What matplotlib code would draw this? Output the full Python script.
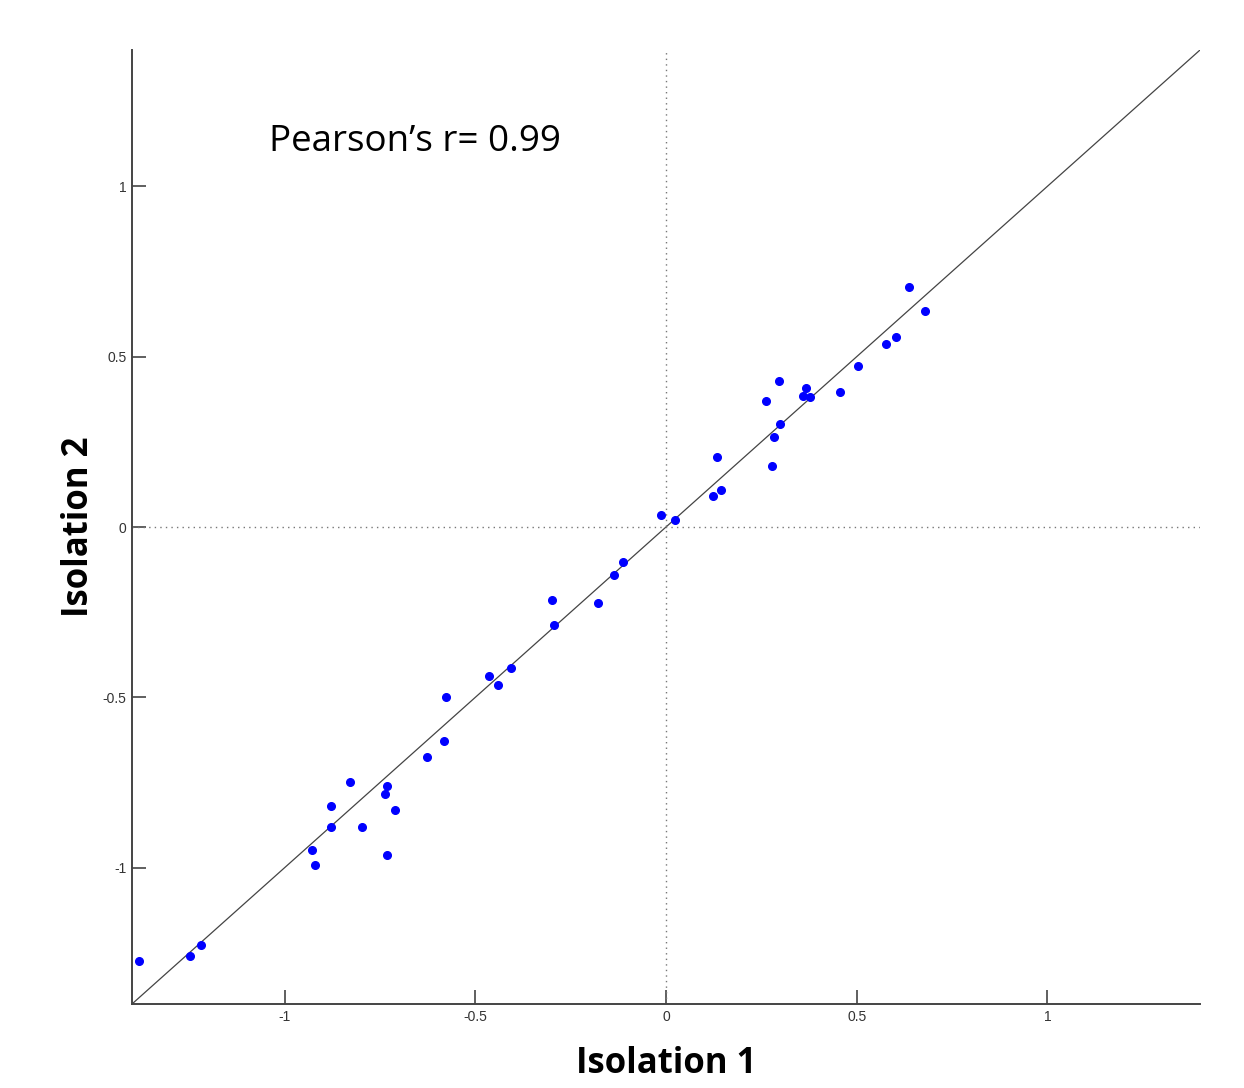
import matplotlib.pyplot as plt

# replicate values from the two isolations
iso1 = [0.638, 0.678, 0.603, 0.578, 0.504, 0.456, 0.378, 0.366, 0.359, 0.296,
        0.262, 0.298, 0.282, 0.278, 0.134, 0.145, 0.122,
        -0.014, 0.023, -0.113, -0.136, -0.299, -0.178, -0.293, -0.407, -0.465,
        -0.441, -0.578, -0.582, -0.627, -0.829, -0.732, -0.736, -0.877, -0.711,
        -0.879, -0.798, -0.927, -0.732, -0.921, -1.381, -1.249, -1.218]
iso2 = [0.705, 0.634, 0.557, 0.536, 0.473, 0.395, 0.382, 0.409, 0.385, 0.429,
        0.371, 0.302, 0.264, 0.180, 0.207, 0.110, 0.092,
        0.035, 0.021, -0.103, -0.140, -0.214, -0.224, -0.288, -0.413, -0.436,
        -0.463, -0.500, -0.627, -0.676, -0.749, -0.759, -0.783, -0.820, -0.830,
        -0.881, -0.881, -0.948, -0.962, -0.992, -1.274, -1.258, -1.226]
pearsonR = 0.99
lim = 1.4
ticks = [-1, -0.5, 0, 0.5, 1]
tickLabels = ["-1", "-0.5", "0", "0.5", "1"]

fig = plt.figure(figsize=(12.44, 10.88), dpi=100)
ax = fig.add_axes([0.1061, 0.0772, 0.8585, 0.8768])

ax.plot([-lim, lim], [-lim, lim], color="#444444", lw=0.9)
ax.axvline(0, color="#777777", lw=1.0, ls=(0, (1, 3)))
ax.axhline(0, color="#777777", lw=1.0, ls=(0, (1, 3)))
ax.plot(iso1, iso2, "o", color="#0000ff", ms=5.5, mec="#0000ff")

ax.set_xlim(-lim, lim)
ax.set_ylim(-lim, lim)
ax.set_xticks(ticks)
ax.set_xticklabels(tickLabels)
ax.set_yticks(ticks)
ax.set_yticklabels(tickLabels)
ax.tick_params(direction="in", length=10, width=1.2, color="#444444",
               labelsize=10, labelcolor="#333333", pad=4)
for lbl in ax.get_xticklabels() + ax.get_yticklabels():
    lbl.set_family("Liberation Sans")
ax.spines["top"].set_visible(False)
ax.spines["right"].set_visible(False)
for s in ("left", "bottom"):
    ax.spines[s].set_color("#444444")
    ax.spines[s].set_linewidth(1.4)

ax.set_xlabel("Isolation 1", family="Open Sans", weight="bold", fontsize=25, labelpad=16)
ax.set_ylabel("Isolation 2", family="Open Sans", weight="bold", fontsize=25, labelpad=4)
ax.text(-1.04, 1.103, f"Pearson\u2019s r= {pearsonR}", family="Open Sans",
        fontsize=26.5, ha="left", va="baseline")

fig.savefig("out.png", dpi=100)
